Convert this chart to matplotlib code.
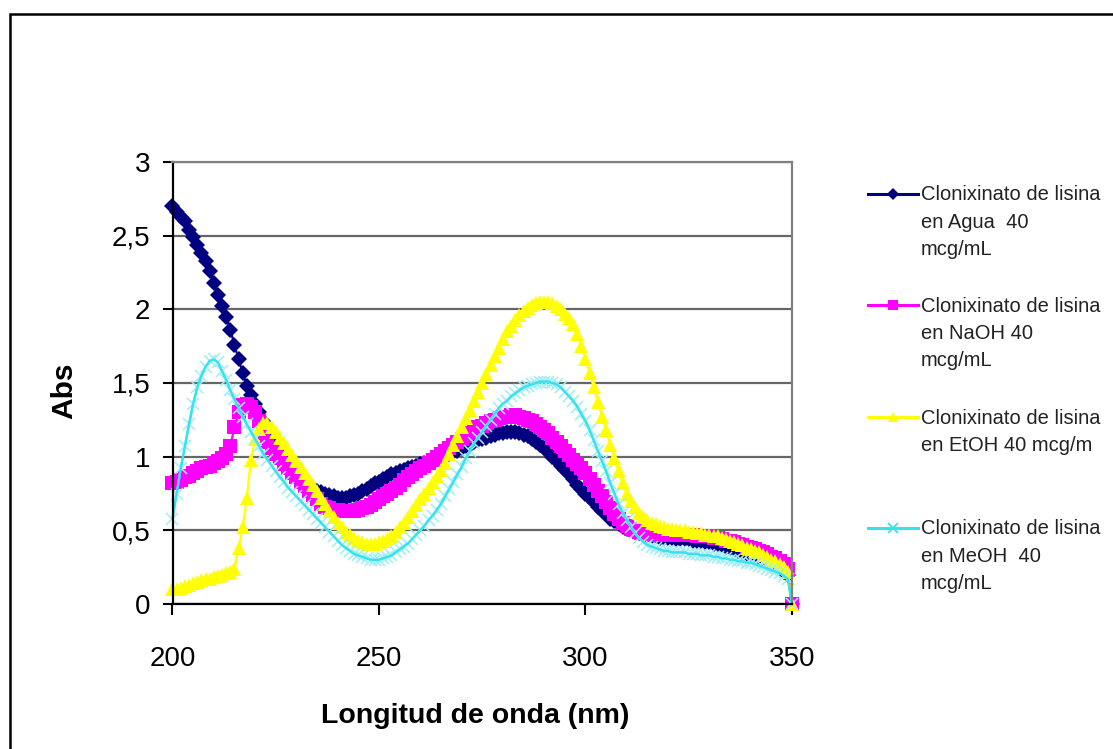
import matplotlib.pyplot as plt
from matplotlib.lines import Line2D
from matplotlib.patches import Rectangle
from matplotlib.ticker import FuncFormatter

plt.rcParams['font.family'] = ['Liberation Sans', 'DejaVu Sans']

# longitud de onda, 200..350 nm cada 1 nm
wavelength = list(range(200, 351))

agua = [
    2.70, 2.66, 2.63, 2.60, 2.54, 2.49, 2.44, 2.38, 2.33, 2.26,
    2.18, 2.10, 2.02, 1.95, 1.86, 1.76, 1.66, 1.57, 1.48, 1.42,
    1.36, 1.30, 1.24, 1.18, 1.13, 1.08, 1.03, 0.99, 0.95, 0.91,
    0.88, 0.85, 0.82, 0.80, 0.78, 0.77, 0.76, 0.75, 0.74, 0.73,
    0.72, 0.72, 0.72, 0.73, 0.74, 0.75, 0.77, 0.78, 0.80, 0.82,
    0.83, 0.85, 0.86, 0.88, 0.89, 0.90, 0.91, 0.92, 0.93, 0.94,
    0.95, 0.96, 0.97, 0.98, 0.99, 1.00, 1.01, 1.02, 1.03, 1.04,
    1.06, 1.07, 1.08, 1.10, 1.11, 1.12, 1.13, 1.14, 1.15, 1.16,
    1.16, 1.17, 1.17, 1.17, 1.16, 1.15, 1.14, 1.12, 1.10, 1.08,
    1.06, 1.03, 1.00, 0.97, 0.94, 0.91, 0.88, 0.85, 0.81, 0.78,
    0.75, 0.72, 0.69, 0.66, 0.63, 0.61, 0.58, 0.56, 0.54, 0.52,
    0.51, 0.50, 0.49, 0.48, 0.47, 0.47, 0.46, 0.46, 0.45, 0.45,
    0.45, 0.45, 0.44, 0.44, 0.44, 0.44, 0.43, 0.43, 0.43, 0.42,
    0.42, 0.41, 0.41, 0.40, 0.39, 0.38, 0.37, 0.36, 0.35, 0.34,
    0.33, 0.32, 0.31, 0.30, 0.28, 0.27, 0.26, 0.24, 0.22, 0.20,
    0.00,
]

naoh = [
    0.82, 0.83, 0.84, 0.86, 0.87, 0.89, 0.90, 0.92, 0.93, 0.94,
    0.96, 0.97, 0.99, 1.02, 1.07, 1.20, 1.30, 1.35, 1.36, 1.34,
    1.30, 1.24, 1.16, 1.10, 1.06, 1.02, 0.99, 0.95, 0.92, 0.89,
    0.86, 0.83, 0.80, 0.77, 0.74, 0.71, 0.68, 0.66, 0.65, 0.64,
    0.64, 0.63, 0.63, 0.63, 0.63, 0.64, 0.65, 0.66, 0.67, 0.69,
    0.71, 0.73, 0.75, 0.77, 0.79, 0.81, 0.84, 0.86, 0.88, 0.90,
    0.92, 0.94, 0.96, 0.98, 1.00, 1.02, 1.04, 1.06, 1.08, 1.10,
    1.12, 1.14, 1.16, 1.18, 1.20, 1.21, 1.23, 1.24, 1.25, 1.26,
    1.27, 1.27, 1.28, 1.28, 1.27, 1.26, 1.25, 1.24, 1.22, 1.20,
    1.18, 1.16, 1.13, 1.10, 1.07, 1.04, 1.01, 0.98, 0.95, 0.92,
    0.89, 0.85, 0.81, 0.77, 0.73, 0.69, 0.65, 0.61, 0.58, 0.55,
    0.53, 0.51, 0.50, 0.49, 0.48, 0.48, 0.47, 0.47, 0.47, 0.47,
    0.47, 0.47, 0.47, 0.47, 0.47, 0.47, 0.47, 0.46, 0.46, 0.46,
    0.46, 0.45, 0.45, 0.44, 0.43, 0.43, 0.42, 0.41, 0.40, 0.39,
    0.38, 0.37, 0.36, 0.35, 0.34, 0.32, 0.31, 0.29, 0.27, 0.24,
    0.00,
]

etoh = [
    0.10, 0.10, 0.11, 0.12, 0.13, 0.14, 0.15, 0.16, 0.17, 0.17,
    0.18, 0.19, 0.20, 0.21, 0.22, 0.24, 0.38, 0.52, 0.72, 0.98,
    1.12, 1.19, 1.23, 1.23, 1.20, 1.17, 1.13, 1.09, 1.05, 1.01,
    0.97, 0.93, 0.89, 0.85, 0.81, 0.77, 0.72, 0.68, 0.63, 0.59,
    0.55, 0.52, 0.49, 0.47, 0.45, 0.43, 0.42, 0.41, 0.41, 0.41,
    0.42, 0.43, 0.44, 0.46, 0.49, 0.52, 0.55, 0.59, 0.63, 0.67,
    0.71, 0.75, 0.79, 0.83, 0.87, 0.91, 0.96, 1.02, 1.08, 1.14,
    1.20, 1.26, 1.32, 1.38, 1.44, 1.50, 1.56, 1.62, 1.68, 1.74,
    1.80, 1.85, 1.89, 1.93, 1.96, 1.99, 2.01, 2.03, 2.04, 2.05,
    2.05, 2.05, 2.04, 2.02, 2.00, 1.97, 1.94, 1.90, 1.83, 1.75,
    1.66, 1.57, 1.47, 1.37, 1.27, 1.18, 1.08, 0.99, 0.90, 0.82,
    0.75, 0.70, 0.66, 0.62, 0.59, 0.57, 0.55, 0.54, 0.53, 0.52,
    0.51, 0.51, 0.50, 0.50, 0.50, 0.49, 0.49, 0.48, 0.48, 0.47,
    0.47, 0.46, 0.46, 0.45, 0.44, 0.43, 0.42, 0.41, 0.40, 0.38,
    0.37, 0.36, 0.35, 0.33, 0.32, 0.30, 0.29, 0.27, 0.25, 0.22,
    0.00,
]

meoh = [
    0.58, 0.75, 0.92, 1.07, 1.22, 1.36, 1.47, 1.55, 1.61, 1.65,
    1.66, 1.64, 1.58, 1.52, 1.45, 1.39, 1.33, 1.27, 1.22, 1.17,
    1.12, 1.07, 1.02, 0.98, 0.94, 0.90, 0.86, 0.83, 0.79, 0.76,
    0.73, 0.70, 0.67, 0.64, 0.61, 0.58, 0.55, 0.52, 0.49, 0.46,
    0.43, 0.40, 0.38, 0.36, 0.34, 0.33, 0.32, 0.31, 0.30, 0.30,
    0.30, 0.31, 0.32, 0.33, 0.35, 0.37, 0.39, 0.41, 0.44, 0.47,
    0.50, 0.53, 0.57, 0.60, 0.64, 0.68, 0.73, 0.78, 0.83, 0.88,
    0.93, 0.99, 1.04, 1.09, 1.13, 1.17, 1.21, 1.25, 1.29, 1.33,
    1.36, 1.38, 1.41, 1.43, 1.45, 1.47, 1.48, 1.49, 1.50, 1.51,
    1.51, 1.51, 1.50, 1.49, 1.47, 1.44, 1.41, 1.38, 1.34, 1.29,
    1.24, 1.18, 1.11, 1.04, 0.97, 0.90, 0.82, 0.75, 0.68, 0.62,
    0.57, 0.52, 0.48, 0.45, 0.42, 0.40, 0.39, 0.38, 0.37, 0.36,
    0.36, 0.35, 0.35, 0.35, 0.35, 0.34, 0.34, 0.34, 0.33, 0.33,
    0.33, 0.32, 0.32, 0.31, 0.31, 0.30, 0.30, 0.29, 0.29, 0.28,
    0.28, 0.27, 0.26, 0.25, 0.24, 0.23, 0.22, 0.21, 0.19, 0.17,
    0.00,
]

labels = [
    ['Clonixinato de lisina', 'en Agua  40', 'mcg/mL'],
    ['Clonixinato de lisina', 'en NaOH 40', 'mcg/mL'],
    ['Clonixinato de lisina', 'en EtOH 40 mcg/m'],
    ['Clonixinato de lisina', 'en MeOH  40', 'mcg/mL'],
]

series = [agua, naoh, etoh, meoh]
colors = ['#000080', '#ff00ff', '#ffff00', '#33e3ee']
markers = ['D', 's', '^', 'x']
msizes = [8.5, 10, 10.5, 9]
legend_msizes = [6, 7.5, 7.5, 7]

W, H = 1113, 749
fig = plt.figure(figsize=(W / 100, H / 100), dpi=100)

# marco exterior (solo se ven el borde izquierdo y superior)
fig.patches.append(Rectangle((9.5 / W, -0.1), 1.2, 1 - 14.5 / H + 0.1,
                             transform=fig.transFigure, fill=False,
                             edgecolor='black', linewidth=1.8))

ax = fig.add_axes([172.5 / W, 145 / H, 619.5 / W, 442 / H])

for ys, c, m, ms in zip(series, colors, markers, msizes):
    if m == 'x':
        ax.plot(wavelength, ys, color=c, linewidth=1.6, marker=m,
                markersize=ms, markeredgewidth=1.1, markeredgecolor='#9eeef4',
                clip_on=False)
        ax.plot(wavelength, ys, color=c, linewidth=1.6, clip_on=False)
    else:
        ax.plot(wavelength, ys, color=c, linewidth=1.6, marker=m,
                markersize=ms, markeredgewidth=0, clip_on=False)

ax.set_xlim(200, 350)
ax.set_ylim(0, 3)
ax.set_xticks([200, 250, 300, 350])
ax.set_yticks([0, 0.5, 1, 1.5, 2, 2.5, 3])
ax.yaxis.set_major_formatter(FuncFormatter(lambda v, p: ('%g' % v).replace('.', ',')))
ax.grid(axis='y', color='#666666', linewidth=1.6)
ax.set_axisbelow(True)

for s in ['top', 'right']:
    ax.spines[s].set_color('#808080')
    ax.spines[s].set_linewidth(1.6)
for s in ['left', 'bottom']:
    ax.spines[s].set_color('black')
    ax.spines[s].set_linewidth(1.6)

ax.tick_params(axis='both', direction='out', width=1.5, labelsize=20,
               colors='black')
ax.tick_params(axis='y', length=7, pad=9)
ax.tick_params(axis='x', length=8, pad=22)

fig.text(475 / W, 1 - 716 / H, 'Longitud de onda (nm)', fontsize=20.5,
         fontweight='bold', ha='center', va='center')
fig.text(64 / W, 1 - 391 / H, 'Abs', fontsize=21.5, fontweight='bold',
         rotation=90, ha='center', va='center')

# leyenda dibujada a mano: linea en la primera fila de cada entrada
legend_rows = [194, 305, 417, 528]
for lab, c, m, ms, yp in zip(labels, colors, markers, legend_msizes, legend_rows):
    yf = 1 - yp / H
    fig.add_artist(Line2D([868 / W, 918 / W], [yf, yf], color=c, linewidth=2.2,
                          transform=fig.transFigure))
    fig.add_artist(Line2D([893 / W], [yf], color=c, marker=m, markersize=ms,
                          markeredgewidth=1.3 if m == 'x' else 0,
                          transform=fig.transFigure))
    for k, line in enumerate(lab):
        fig.text(921 / W, 1 - (yp + 6.5 + 27.3 * k) / H, line, fontsize=14.5,
                 color='#222222', ha='left', va='baseline')

fig.savefig('out.png', dpi=100, facecolor='white')
